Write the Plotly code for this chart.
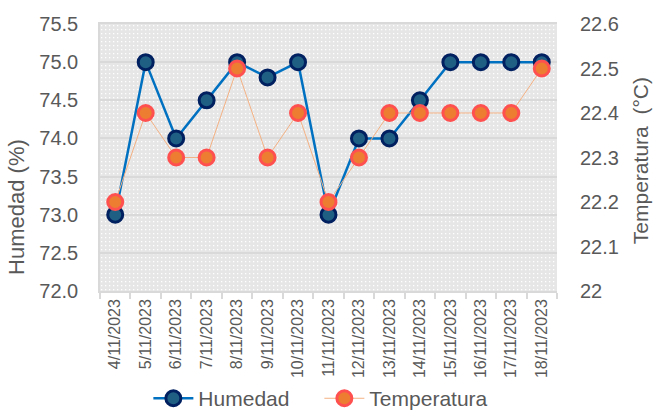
import base64
import plotly.graph_objects as go

fechas = ["4/11/2023", "5/11/2023", "6/11/2023", "7/11/2023", "8/11/2023", "9/11/2023",
          "10/11/2023", "11/11/2023", "12/11/2023", "13/11/2023", "14/11/2023",
          "15/11/2023", "16/11/2023", "17/11/2023", "18/11/2023"]
humedad = [73.0, 75.0, 74.0, 74.5, 75.0, 74.8, 75.0, 73.0, 74.0, 74.0, 74.5, 75.0, 75.0, 75.0, 75.0]
temperatura = [22.2, 22.4, 22.3, 22.3, 22.5, 22.3, 22.4, 22.2, 22.3, 22.4, 22.4, 22.4, 22.4, 22.4, 22.5]
hum_ticks = [72.0, 72.5, 73.0, 73.5, 74.0, 74.5, 75.0, 75.5]
temp_ticks = [22.0, 22.1, 22.2, 22.3, 22.4, 22.5, 22.6]

W, H = 653, 413
ML, MR, MT, MB = 100, 96, 24, 122
PW, PH = W - ML - MR, H - MT - MB

svg = (f'<svg xmlns="http://www.w3.org/2000/svg" width="{PW}" height="{PH}" viewBox="0 0 {PW} {PH}" preserveAspectRatio="none">'
       '<defs><pattern id="p" width="4" height="4" patternUnits="userSpaceOnUse">'
       '<rect width="4" height="4" fill="#e6e6e6"/><rect x="1" y="1" width="1.3" height="1.3" fill="#ffffff"/>'
       '</pattern></defs>'
       f'<rect width="{PW}" height="{PH}" fill="url(#p)"/></svg>')
src = "data:image/svg+xml;base64," + base64.b64encode(svg.encode()).decode()

FONT = "Liberation Sans, Arial, sans-serif"
GRAY = "#595959"

fig = go.Figure()
fig.add_trace(go.Scatter(
    x=fechas, y=humedad, name="Humedad", mode="lines+markers",
    line=dict(color="#0070C0", width=2.5),
    marker=dict(size=15, color="#1F5F84", line=dict(color="#002060", width=3)),
    yaxis="y"))
fig.add_trace(go.Scatter(
    x=fechas, y=temperatura, name="Temperatura", mode="lines+markers",
    line=dict(color="#F4B183", width=1),
    marker=dict(size=15, color="#ED7D31", line=dict(color="#FF5050", width=3)),
    yaxis="y2"))

fig.update_layout(
    width=W, height=H,
    margin=dict(l=ML, r=MR, t=MT, b=MB, autoexpand=False),
    paper_bgcolor="white", plot_bgcolor="rgba(0,0,0,0)",
    font=dict(family=FONT, color=GRAY, size=20),
    images=[dict(source=src, xref="paper", yref="paper", x=0, y=1, sizex=1, sizey=1,
                 xanchor="left", yanchor="top", sizing="stretch", layer="below")],
    xaxis=dict(type="category", tickson="boundaries", ticks="outside", ticklen=6,
               tickcolor="#d9d9d9", tickwidth=1.5, tickangle=-90, automargin=False,
               tickfont=dict(size=16, color=GRAY), showgrid=False,
               showline=True, linecolor="#d9d9d9", linewidth=1.5, mirror=True,
               range=[-0.5, len(fechas) - 0.5]),
    yaxis=dict(range=[72.0, 75.5], tickvals=hum_ticks, tickformat=".1f", automargin=False,
               gridcolor="#d9d9d9", gridwidth=1.5, ticklabelstandoff=16,
               showline=True, linecolor="#d9d9d9", linewidth=1.5, zeroline=False,
               tickfont=dict(size=20)),
    yaxis2=dict(range=[22.0, 22.6], tickvals=temp_ticks, overlaying="y", side="right",
                automargin=False, ticklabelstandoff=22,
                showgrid=False, zeroline=False, tickfont=dict(size=20)),
    annotations=[
        dict(text="Humedad (%)", xref="paper", yref="paper", x=-0.1816, y=0.315,
             textangle=-90, showarrow=False, xanchor="center", yanchor="middle",
             font=dict(size=22, color=GRAY)),
        dict(text="Temperatura  (°C)", xref="paper", yref="paper", x=1.1816, y=0.49,
             textangle=-90, showarrow=False, xanchor="center", yanchor="middle",
             font=dict(size=21, color=GRAY)),
    ],
    legend=dict(orientation="h", x=0.48, xanchor="center", y=-0.403, yanchor="middle",
                font=dict(size=21), itemwidth=40, entrywidth=116),
    showlegend=True,
)
fig.write_html(
    "out.html",
    config={"displayModeBar": False},
    post_script="document.body.style.margin='0';document.body.style.overflow='hidden';",
)
